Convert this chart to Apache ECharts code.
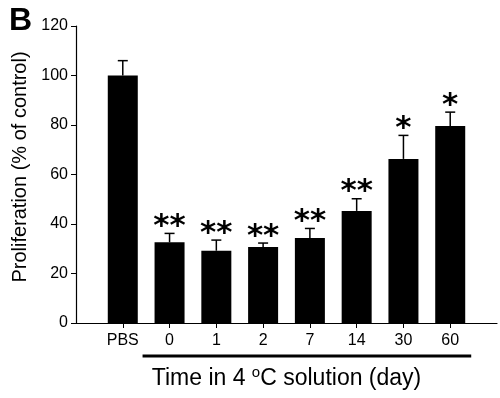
<!DOCTYPE html>
<html>
<head>
<meta charset="utf-8">
<script src="https://cdn.jsdelivr.net/npm/echarts@6/dist/echarts.min.js"></script>
<style>
  html, body { margin: 0; padding: 0; background: #fff; }
  #chart { width: 500px; height: 398px; }
</style>
</head>
<body>
<div id="chart"></div>
<script>
  // empty slots at both ends keep PBS one step in from the y axis
  const categories = ['', 'PBS', '0', '1', '2', '7', '14', '30', '60', ''];
  const means = [null, 100, 32.6, 29.2, 30.7, 34.3, 45.3, 66.3, 79.6, null];
  const errTops = [null, 106, 36.2, 33.5, 32.3, 38.2, 50.2, 75.8, 85.2, null];
  const stars = ['', '', '**', '**', '**', '**', '**', '*', '*', ''];
  const yTicks = [0, 20, 40, 60, 80, 100, 120];

  const chart = echarts.init(document.getElementById('chart'));
  const font = 'Liberation Sans, Arial, sans-serif';

  const errData = [];
  categories.forEach((c, i) => {
    if (means[i] != null) errData.push([i, means[i], errTops[i], stars[i]]);
  });

  let option = {
    animation: false,
    grid: { left: 76, right: 1, top: 26, bottom: 75 },
    xAxis: {
      type: 'category',
      data: categories,
      boundaryGap: false,
      axisLine: { lineStyle: { color: '#000', width: 1.2 } },
      axisTick: {
        length: 5,
        lineStyle: { color: '#000' },
        interval: (idx, val) => val !== ''
      },
      axisLabel: { color: '#000', fontFamily: font, fontSize: 16, margin: 10, interval: 0 },
      name: 'Time in 4 {sup|o}C solution (day)',
      nameLocation: 'middle',
      nameGap: 42,
      nameTextStyle: {
        color: '#000', fontFamily: font, fontSize: 23,
        rich: {
          sup: { fontFamily: font, fontSize: 15, verticalAlign: 'top', padding: [0, 0, 12, 0] }
        }
      }
    },
    yAxis: {
      type: 'value',
      min: yTicks[0],
      max: yTicks[yTicks.length - 1],
      interval: 20,
      splitLine: { show: false },
      axisLine: { show: true, lineStyle: { color: '#000', width: 1.2 } },
      axisTick: { show: true, length: 5, lineStyle: { color: '#000' } },
      axisLabel: { color: '#000', fontFamily: font, fontSize: 16, margin: 8 },
      name: 'Proliferation (% of control)',
      nameLocation: 'middle',
      nameRotate: 90,
      nameGap: 42,
      nameTextStyle: { color: '#000', fontFamily: font, fontSize: 20, padding: [0, 0, 0, 15] }
    },
    series: [{
      type: 'bar',
      data: means,
      barWidth: 30,
      itemStyle: { color: '#000' }
    }, {
      type: 'custom',
      data: errData,
      z: 5,
      renderItem: function (params, api) {
        const top = api.coord([api.value(0), api.value(2)]);
        const base = api.coord([api.value(0), api.value(1)]);
        const star = errData[params.dataIndex][3];
        const children = [{
          type: 'line',
          shape: { x1: top[0], y1: base[1], x2: top[0], y2: top[1] },
          style: { stroke: '#000', lineWidth: 1.5 }
        }, {
          type: 'line',
          shape: { x1: top[0] - 5, y1: top[1], x2: top[0] + 5, y2: top[1] },
          style: { stroke: '#000', lineWidth: 1.5 }
        }];
        if (star) {
          children.push({
            type: 'text',
            style: {
              text: star,
              x: top[0],
              y: top[1] + 9,
              align: 'center',
              verticalAlign: 'bottom',
              fill: '#000',
              font: 'bold 31px DejaVu Sans'
            }
          });
        }
        return { type: 'group', children: children };
      }
    }]
  };
  chart.setOption(option);

  // bracket line under the day labels
  const x0 = chart.convertToPixel({ xAxisIndex: 0 }, '0');
  const x60 = chart.convertToPixel({ xAxisIndex: 0 }, '60');
  const yLine = chart.convertToPixel({ yAxisIndex: 0 }, 0) + 33;
  chart.setOption({
    graphic: [{
      type: 'text',
      left: 9,
      top: 5,
      style: { text: 'B', font: 'bold 32px Liberation Sans, Arial, sans-serif', fill: '#000' }
    }, {
      type: 'line',
      shape: { x1: x0 - 27, y1: yLine, x2: x60 + 21, y2: yLine },
      style: { stroke: '#000', lineWidth: 3 }
    }]
  });
</script>
</body>
</html>
